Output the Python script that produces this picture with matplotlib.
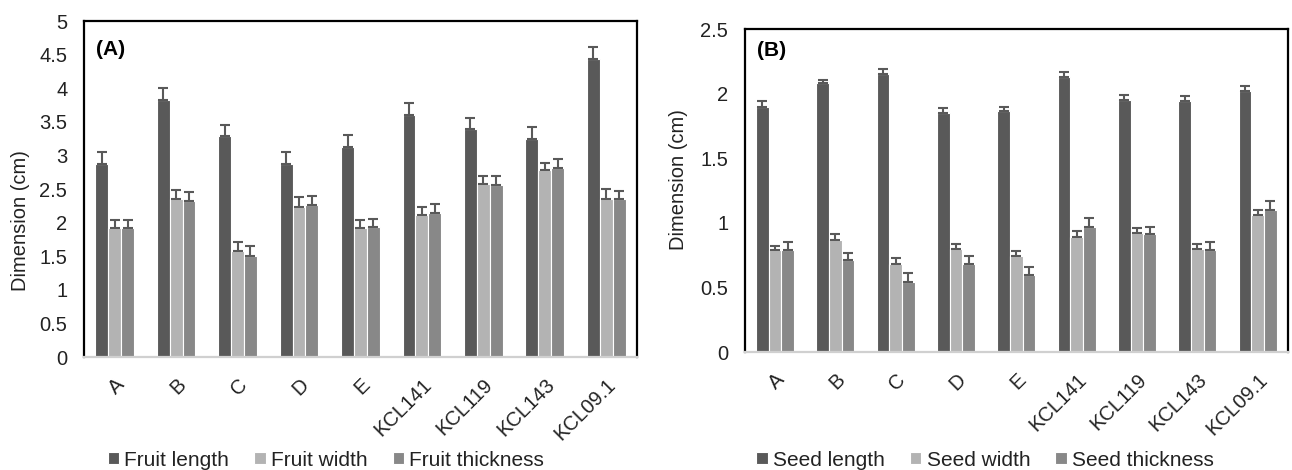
import numpy as np
import matplotlib
matplotlib.use("Agg")
import matplotlib.pyplot as plt

plt.rcParams['font.family'] = ['Liberation Sans', 'DejaVu Sans']

lineas = ['A', 'B', 'C', 'D', 'E', 'KCL141', 'KCL119', 'KCL143', 'KCL09.1']

# Fruto (cm)
fruit_length = [2.88, 3.83, 3.29, 2.88, 3.13, 3.61, 3.39, 3.24, 4.44]
fruit_length_err = [0.17, 0.17, 0.17, 0.17, 0.18, 0.17, 0.17, 0.18, 0.17]
fruit_width = [1.92, 2.35, 1.58, 2.24, 1.92, 2.11, 2.57, 2.78, 2.36]
fruit_width_err = [0.12, 0.14, 0.13, 0.14, 0.12, 0.13, 0.12, 0.11, 0.14]
fruit_thick = [1.92, 2.33, 1.51, 2.26, 1.94, 2.14, 2.56, 2.81, 2.35]
fruit_thick_err = [0.12, 0.13, 0.14, 0.14, 0.12, 0.14, 0.13, 0.14, 0.13]

# Semilla (cm)
seed_length = [1.90, 2.08, 2.15, 1.85, 1.87, 2.13, 1.95, 1.94, 2.02]
seed_length_err = [0.04, 0.03, 0.04, 0.04, 0.03, 0.04, 0.04, 0.04, 0.04]
seed_width = [0.79, 0.87, 0.68, 0.80, 0.74, 0.89, 0.92, 0.80, 1.06]
seed_width_err = [0.03, 0.04, 0.05, 0.04, 0.04, 0.05, 0.04, 0.04, 0.04]
seed_thick = [0.79, 0.71, 0.54, 0.68, 0.60, 0.97, 0.91, 0.79, 1.10]
seed_thick_err = [0.06, 0.06, 0.07, 0.06, 0.06, 0.07, 0.06, 0.06, 0.07]

colores = ['#595959', '#b3b3b3', '#888888']

fig = plt.figure(figsize=(12.92, 4.70), dpi=100)
ax1 = fig.add_axes([0.065, 0.240, 0.428, 0.715])
ax2 = fig.add_axes([0.5766, 0.251, 0.4203, 0.687])


def panel(ax, series, errores, nombres, ymax, paso, letra, ly, lab_xy):
    x = np.arange(len(lineas))
    w = 0.21
    for i, (vals, err, nom) in enumerate(zip(series, errores, nombres)):
        pos = x + (i - 1) * w
        ax.bar(pos, vals, width=w, color=colores[i], edgecolor='white',
               linewidth=0.8, label=nom, zorder=2)
        ax.errorbar(pos, vals, yerr=[np.zeros(len(err)), err], fmt='none',
                    ecolor='#595959', elinewidth=1.5, capsize=3.5,
                    capthick=1.5, zorder=3)
    ax.set_xlim(-0.5, len(lineas) - 0.5)
    ax.set_ylim(0, ymax)
    ticks = np.arange(0, ymax + paso / 2, paso)
    ax.set_yticks(ticks)
    ax.set_yticklabels(['%g' % v for v in ticks])
    ax.set_xticks(x)
    ax.set_xticklabels(lineas, rotation=45, ha='right', rotation_mode='anchor')
    ax.tick_params(length=0, labelsize=14.5, colors='#222222')
    ax.tick_params(axis='y', pad=12)
    ax.tick_params(axis='x', pad=13)
    ax.set_ylabel('Dimension (cm)', fontsize=14.5, color='#222222')
    ax.yaxis.set_label_coords(*lab_xy)
    for s in ['top', 'right', 'left']:
        ax.spines[s].set_color('black')
        ax.spines[s].set_linewidth(1.6)
    ax.spines['bottom'].set_color('#d0d0d0')
    ax.spines['bottom'].set_linewidth(1.6)
    ax.text(0.022, ly, letra, transform=ax.transAxes, fontsize=15,
            fontweight='bold', va='center')


panel(ax1, [fruit_length, fruit_width, fruit_thick],
      [fruit_length_err, fruit_width_err, fruit_thick_err],
      ['Fruit length', 'Fruit width', 'Fruit thickness'], 5, 0.5, '(A)', 0.915,
      (-0.098, 0.408))
panel(ax2, [seed_length, seed_width, seed_thick],
      [seed_length_err, seed_width_err, seed_thick_err],
      ['Seed length', 'Seed width', 'Seed thickness'], 2.5, 0.5, '(B)', 0.935,
      (-0.105, 0.533))

for ax, cx in [(ax1, 326 / 1292), (ax2, 985 / 1292)]:
    h, l = ax.get_legend_handles_labels()
    fig.legend(h, l, loc='center', bbox_to_anchor=(cx, 1 - 460 / 470),
               ncol=3, frameon=False, fontsize=15, handlelength=0.55,
               handleheight=0.55, handletextpad=0.25, columnspacing=1.2,
               labelcolor='#222222')

plt.savefig('out.png', dpi=100)
plt.close()
